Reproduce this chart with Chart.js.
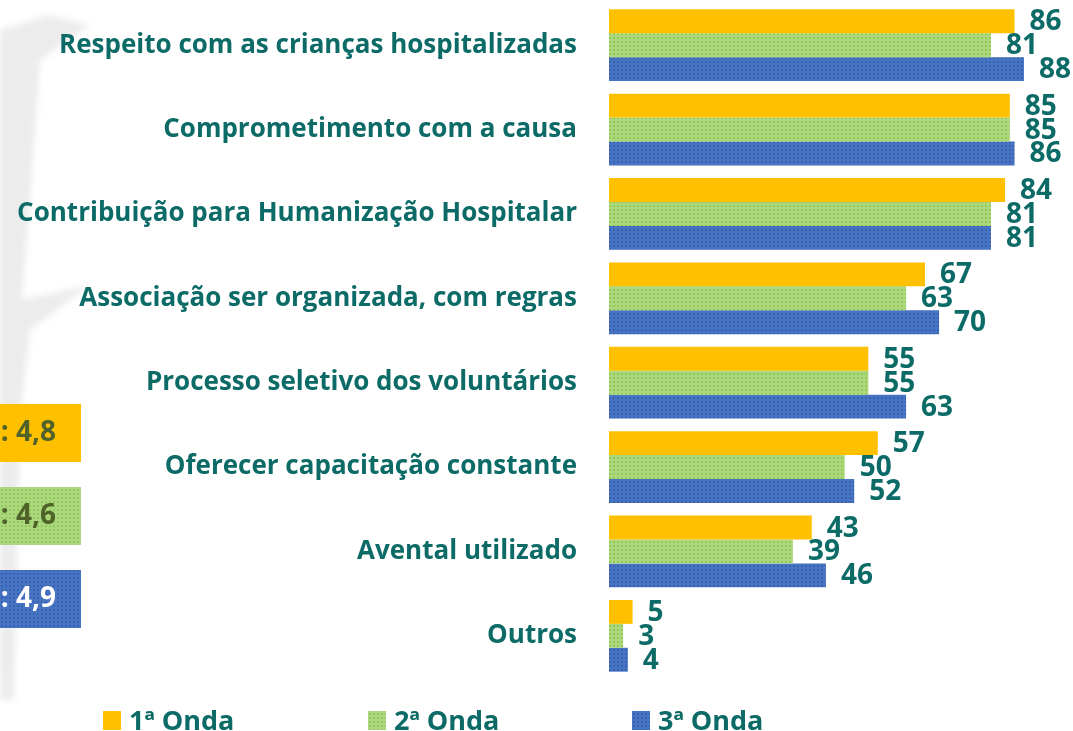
<!DOCTYPE html>
<html><head><meta charset="utf-8">
<script src="https://cdn.jsdelivr.net/npm/chart.js@4"></script>
<style>html,body{margin:0;padding:0;background:#fff;}#wrap{position:relative;width:1073px;height:731px;}</style>
</head><body><div id="wrap"><canvas id="c"></canvas></div>
<script>
const categories = ["Respeito com as crianças hospitalizadas","Comprometimento com a causa","Contribuição para Humanização Hospitalar","Associação ser organizada, com regras","Processo seletivo dos voluntários","Oferecer capacitação constante","Avental utilizado","Outros"];
const onda1 = [86,85,84,67,55,57,43,5];
const onda2 = [81,85,81,63,55,50,39,3];
const onda3 = [88,86,81,70,63,52,46,4];
const seriesNames = ["1ª Onda","2ª Onda","3ª Onda"];
const sideLabels = [": 4,8", ": 4,6", ": 4,9"];

const TEAL = '#0d6b67';
const FONT = '"Open Sans", sans-serif';
function dotPattern(base, dot) {
  const c = document.createElement('canvas'); c.width = 4; c.height = 4;
  const g = c.getContext('2d');
  g.fillStyle = base; g.fillRect(0,0,4,4);
  g.fillStyle = dot; g.fillRect(1,1,2,2);
  return g.createPattern(c, 'repeat');
}
const orange = '#FFC000';
const green = dotPattern('#acd77f', '#8fcb55');
const blue = dotPattern('#4673c4', '#3a63ad');
const fills = [orange, green, blue];

const extras = {
  id: 'extras',
  beforeDraw(chart) {
    const ctx = chart.ctx; ctx.save();
    ctx.fillStyle = '#ececec';
    ctx.filter = 'blur(3px)';
    ctx.beginPath();
    ctx.moveTo(0,30); ctx.lineTo(50,15); ctx.lineTo(90,25); ctx.lineTo(40,60); ctx.lineTo(30,200);
    ctx.lineTo(22,300); ctx.lineTo(90,285); ctx.lineTo(30,330); ctx.lineTo(20,420); ctx.lineTo(14,700); ctx.lineTo(0,700);
    ctx.closePath(); ctx.fill();
    ctx.restore();
  },
  afterDatasetsDraw(chart) {
    const ctx = chart.ctx; ctx.save();
    ctx.font = 'bold 28px ' + FONT; ctx.fillStyle = TEAL;
    ctx.textAlign = 'left'; ctx.textBaseline = 'middle';
    chart.data.datasets.forEach((ds, i) => {
      chart.getDatasetMeta(i).data.forEach((el, j) => {
        ctx.fillText(String(ds.data[j]), el.x + 15, el.y + 1);
      });
    });
    ctx.restore();
  },
  afterDraw(chart) {
    const ctx = chart.ctx; ctx.save();
    const boxY = [404, 487, 570];
    const boxText = ['#4f6228', '#4f6228', '#ffffff'];
    ctx.font = 'bold 28px ' + FONT; ctx.textAlign = 'right'; ctx.textBaseline = 'middle';
    for (let i = 0; i < 3; i++) {
      ctx.fillStyle = fills[i]; ctx.fillRect(0, boxY[i], 81, 58);
      ctx.fillStyle = boxText[i]; ctx.fillText(sideLabels[i], 56, boxY[i] + 29);
    }
    const lx = [103, 368, 632];
    ctx.textAlign = 'left'; ctx.textBaseline = 'alphabetic'; ctx.font = 'bold 27px ' + FONT;
    for (let i = 0; i < 3; i++) {
      ctx.fillStyle = fills[i]; ctx.fillRect(lx[i], 711, 18, 19);
      ctx.fillStyle = TEAL; ctx.fillText(seriesNames[i], lx[i] + 26, 730);
    }
    ctx.restore();
  }
};

new Chart(document.getElementById('c'), {
  type: 'bar',
  data: {
    labels: categories,
    datasets: [
      { label: seriesNames[0], data: onda1, backgroundColor: fills[0] },
      { label: seriesNames[1], data: onda2, backgroundColor: fills[1] },
      { label: seriesNames[2], data: onda3, backgroundColor: fills[2] }
    ]
  },
  options: {
    indexAxis: 'y',
    responsive: true, maintainAspectRatio: false, animation: false,
    datasets: { bar: { categoryPercentage: 0.85, barPercentage: 1.0 } },
    layout: { padding: { top: 3, bottom: 53, left: 0, right: 0 } },
    scales: {
      x: { display: false, min: 0, max: 98.4 },
      y: {
        grid: { display: false, drawTicks: false }, border: { display: false },
        ticks: { color: TEAL, font: { family: FONT, weight: 'bold', size: 26 }, padding: 32 },
        afterFit(s) { s.width = 609; s.paddingTop = 0; s.paddingBottom = 0; }
      }
    },
    plugins: { legend: { display: false }, tooltip: { enabled: false } }
  },
  plugins: [extras]
});
</script></body></html>
